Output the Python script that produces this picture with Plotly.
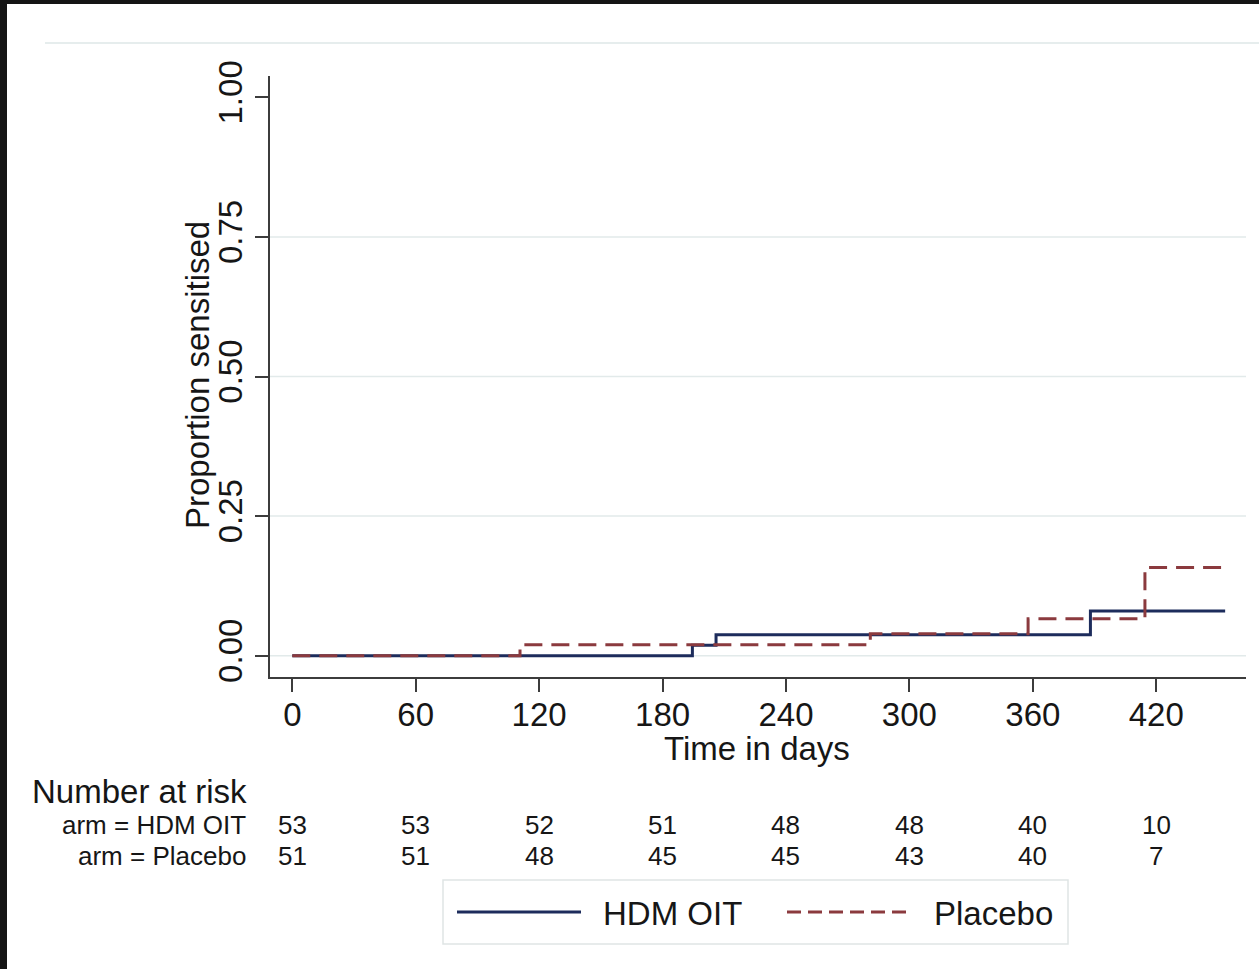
import plotly.graph_objects as go

# ---- data ----
hdm_time = [0, 194.5, 206, 388, 453.5]
hdm_prop = [0, 0.0189, 0.0377, 0.080, 0.080]
pla_time = [0, 110.7, 281, 357.7, 414.5, 453.5]
pla_prop = [0, 0.0196, 0.0392, 0.066, 0.158, 0.158]

x_ticks = [0, 60, 120, 180, 240, 300, 360, 420]
y_ticks = [0, 0.25, 0.5, 0.75, 1.0]
y_ticktext = ["0.00", "0.25", "0.50", "0.75", "1.00"]
grid_vals = [0, 0.25, 0.5, 0.75]

risk_hdm = [53, 53, 52, 51, 48, 48, 40, 10]
risk_pla = [51, 51, 48, 45, 45, 43, 40, 7]
row_labels = ["arm = HDM OIT", "arm = Placebo"]
series_names = ["HDM OIT", "Placebo"]

BLUE = "#1d2c5c"
RED = "#8b3a3e"
FONT = "Liberation Sans, Arial, sans-serif"
TXT = "#161616"
BIG = 33
SMALL = 26

W, H = 1259, 969
L, R, T, B = 270, 1246, 76, 677  # plot area in pixels


def px(xp):
    return (xp - L) / (R - L)


def py(yp):
    return (B - yp) / (B - T)


fig = go.Figure()
fig.add_trace(go.Scatter(x=hdm_time, y=hdm_prop, mode="lines", line_shape="hv",
                         line=dict(color=BLUE, width=3), name=series_names[0],
                         showlegend=False))
fig.add_trace(go.Scatter(x=pla_time, y=pla_prop, mode="lines", line_shape="hv",
                         line=dict(color=RED, width=3, dash="18px,9px"),
                         name=series_names[1], showlegend=False))

shapes = []
# grid lines
for g in grid_vals:
    shapes.append(dict(type="line", xref="paper", yref="y", x0=0, x1=1, y0=g, y1=g,
                       line=dict(color="#e2eaea", width=1.5), layer="below"))
# faint top border line
shapes.append(dict(type="line", xref="paper", yref="paper", x0=px(45), x1=px(1259),
                   y0=py(43), y1=py(43), line=dict(color="#e6eded", width=2)))
# dark frame (photo edges)
shapes.append(dict(type="rect", xref="paper", yref="paper", x0=px(0), x1=px(7),
                   y0=py(0), y1=py(969), fillcolor="#151515", line=dict(width=0)))
shapes.append(dict(type="rect", xref="paper", yref="paper", x0=px(0), x1=px(1259),
                   y0=py(4), y1=py(0), fillcolor="#151515", line=dict(width=0)))
# legend box
shapes.append(dict(type="rect", xref="paper", yref="paper", x0=px(443), x1=px(1068),
                   y0=py(944), y1=py(880), line=dict(color="#dfe5e5", width=1.5),
                   fillcolor="white"))
shapes.append(dict(type="line", xref="paper", yref="paper", x0=px(457), x1=px(581),
                   y0=py(912), y1=py(912), line=dict(color=BLUE, width=3)))
shapes.append(dict(type="line", xref="paper", yref="paper", x0=px(787), x1=px(911),
                   y0=py(912), y1=py(912), line=dict(color=RED, width=3, dash="14px,7px")))

ann = []
# axis titles
ann.append(dict(text="Proportion sensitised", xref="paper", yref="paper",
                x=px(197), y=py(375), textangle=-90, showarrow=False,
                font=dict(size=BIG, family=FONT, color=TXT), xanchor="center", yanchor="middle"))
ann.append(dict(text="Time in days", xref="paper", yref="paper",
                x=px(757), y=py(749), showarrow=False,
                font=dict(size=BIG, family=FONT, color=TXT), xanchor="center", yanchor="middle"))
# number at risk
ann.append(dict(text="Number at risk", xref="paper", yref="paper", x=px(30), y=py(791),
                showarrow=False, xanchor="left", yanchor="middle",
                font=dict(size=BIG, family=FONT, color=TXT)))
for lab, yy in zip(row_labels, [825, 856]):
    ann.append(dict(text=lab, xref="paper", yref="paper", x=px(248), y=py(yy),
                    showarrow=False, xanchor="right", yanchor="middle",
                    font=dict(size=SMALL, family=FONT, color=TXT)))
for vals, yy in zip([risk_hdm, risk_pla], [825, 856]):
    for t, v in zip(x_ticks, vals):
        ann.append(dict(text=str(v), xref="x", yref="paper", x=t, y=py(yy),
                        showarrow=False, xanchor="center", yanchor="middle",
                        font=dict(size=SMALL, family=FONT, color=TXT)))
# legend texts
ann.append(dict(text=series_names[0], xref="paper", yref="paper", x=px(601), y=py(913),
                showarrow=False, xanchor="left", yanchor="middle",
                font=dict(size=BIG, family=FONT, color=TXT)))
ann.append(dict(text=series_names[1], xref="paper", yref="paper", x=px(932), y=py(913),
                showarrow=False, xanchor="left", yanchor="middle",
                font=dict(size=BIG, family=FONT, color=TXT)))

x0_px = 292.3
ppd = 2.057
y0_px = 655.7
ppu = 558.4

fig.update_layout(
    width=W, height=H,
    margin=dict(l=L, r=W - R, t=T, b=H - B, pad=0),
    paper_bgcolor="white", plot_bgcolor="white",
    shapes=shapes, annotations=ann, showlegend=False,
    xaxis=dict(range=[-(x0_px - L) / ppd, (R - x0_px) / ppd], tickvals=x_ticks,
               showgrid=False, zeroline=False, showline=True, linecolor="#3c3c3c",
               linewidth=2, ticks="outside", ticklen=13, tickwidth=2, tickcolor="#3c3c3c",
               ticklabelstandoff=-6,
               tickfont=dict(size=BIG, family=FONT, color=TXT)),
    yaxis=dict(range=[-(B - y0_px) / ppu, (y0_px - T) / ppu], tickvals=y_ticks,
               ticktext=y_ticktext, tickangle=-90,
               showgrid=False, zeroline=False, showline=True, linecolor="#3c3c3c",
               linewidth=2, ticks="outside", ticklen=13, tickwidth=2, tickcolor="#3c3c3c",
               tickfont=dict(size=BIG, family=FONT, color=TXT)),
)

fig.write_html("out.html")
